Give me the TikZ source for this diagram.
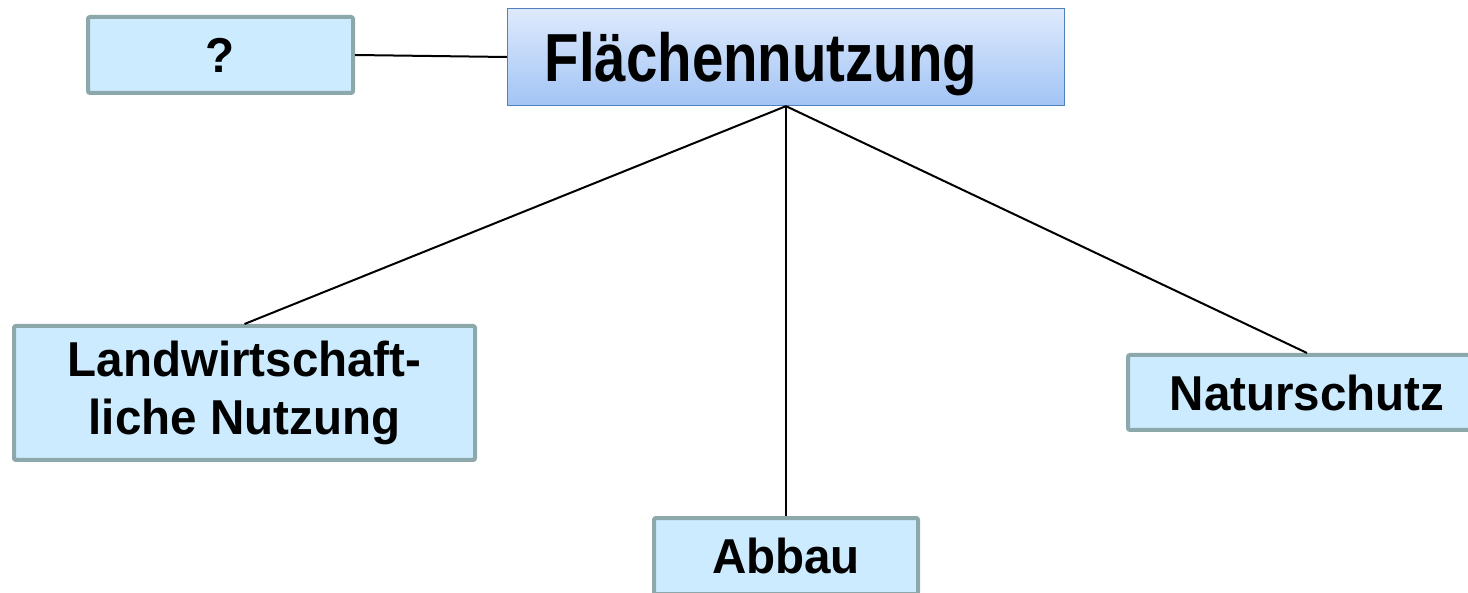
\documentclass[tikz,border=0pt]{standalone}
\usepackage{xcolor}
\usepackage{tikz}
\usepackage{fontspec}
\setmainfont{Liberation Sans}
\newfontfamily\kastenfont[FakeStretch=0.97]{Liberation Sans Bold}
\newfontfamily\hauptfont[FakeStretch=0.83]{Liberation Sans Bold}
\usetikzlibrary{positioning}

\definecolor{kastenfill}{HTML}{CCEBFF}
\definecolor{kastenrand}{HTML}{8DA8AA}
\definecolor{hauptoben}{HTML}{DEEAFC}
\definecolor{hauptunten}{HTML}{A2C4F5}
\definecolor{hauptrand}{HTML}{4F81BD}

\begin{document}
\begin{tikzpicture}[x=1pt,y=-1pt,
    kasten/.style={draw=kastenrand,fill=kastenfill,line width=4pt,rounded corners=2pt,
        inner sep=0pt,align=center,font=\kastenfont\fontsize{49}{58}\selectfont},
    haupt/.style={draw=hauptrand,top color=hauptoben,bottom color=hauptunten,line width=1.3pt,
        inner sep=0pt,text depth=0pt,font=\hauptfont\fontsize{68}{72}\selectfont},
    ast/.style={draw=black,line width=2pt}]
    \useasboundingbox (0,0) rectangle (1468,593);
    \clip (0,0) rectangle (1468,593);
    % Oberbegriff
    \node[haupt,minimum width=557pt,minimum height=97pt] (flaeche) at (786,57) {Flächennutzung\hspace*{50pt}};
    \node[kasten,minimum width=265pt,minimum height=76pt] (frage) at (220.5,55) {?};
    % Unterbegriffe
    \node[kasten,minimum width=461pt,minimum height=134pt] (landw) at (244.5,393) {Landwirtschaft-\\liche Nutzung};
    \node[kasten,minimum width=264pt,minimum height=76pt] (abbau) at (786,556) {Abbau};
    \node[kasten,minimum width=358pt,minimum height=75pt] (natur) at (1307,392.5) {Naturschutz};
    % Verbindungen
    \draw[ast] (frage.east) -- (flaeche.west);
    \draw[ast] (flaeche.south) -- (landw.north);
    \draw[ast] (flaeche.south) -- (abbau.north);
    \draw[ast] (flaeche.south) -- (natur.north);
\end{tikzpicture}
\end{document}
